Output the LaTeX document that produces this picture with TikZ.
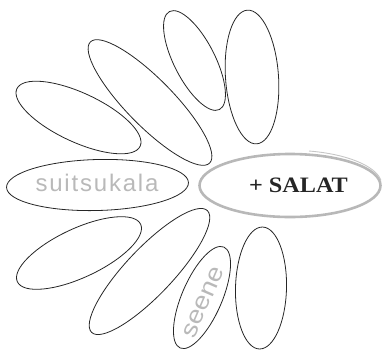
\documentclass[tikz,border=0pt]{standalone}
\usepackage{fontspec}
\usetikzlibrary{shapes.geometric}
\newfontfamily\lblfont[LetterSpace=7.5]{Liberation Sans}
\newfontfamily\lblwidefont[FakeStretch=1.15]{Liberation Sans}
\newfontfamily\salatfont[FakeStretch=1.1]{Liberation Serif}
\definecolor{inkc}{HTML}{262626}
\definecolor{palegray}{HTML}{B9B9B9}
\definecolor{brushgray}{HTML}{B8B8B8}
\tikzset{
  petal/.style={draw=inkc, line width=0.8pt, ellipse, inner sep=0pt, outer sep=0pt},
  palelabel/.style={text=palegray, font=\lblfont\fontsize{24}{24}\selectfont, inner sep=0pt},
  palewidelabel/.style={text=palegray, font=\lblwidefont\fontsize{24}{24}\selectfont, inner sep=0pt},
  salatlabel/.style={text=inkc, font=\salatfont\bfseries\fontsize{22}{22}\selectfont, inner sep=0pt},
  brush/.style={draw=brushgray, line width=2.6pt},
  brushthin/.style={draw=brushgray!80, line width=0.9pt},
}
\begin{document}
\begin{tikzpicture}[x=1pt,y=-1pt]
\useasboundingbox (0,0) rectangle (382,354);
% petals (upper half)
\node[petal, minimum width=134pt, minimum height=53pt, rotate=94] (p1) at (252,77) {};
\node[petal, minimum width=110pt, minimum height=41pt, rotate=117] (p2) at (194.5,60.5) {};
\node[petal, minimum width=170pt, minimum height=47pt, rotate=134.5] (p3) at (150,102.5) {};
\node[petal, minimum width=136pt, minimum height=49pt, rotate=-25] (p4) at (78.5,117.5) {};
% middle row
\node[petal, minimum width=182pt, minimum height=51pt, rotate=1.5] (p5) at (97.5,185) {};
% lower half
\node[petal, minimum width=136pt, minimum height=49pt, rotate=25] (p7) at (79,253) {};
\node[petal, minimum width=168pt, minimum height=47pt, rotate=46.5] (p8) at (149.5,271.5) {};
\node[petal, minimum width=110pt, minimum height=40pt, rotate=66.6] (p9) at (202,297.5) {};
\node[petal, minimum width=122pt, minimum height=51pt, rotate=88.5] (p10) at (261,288) {};
% brush ellipse
\node[brush, ellipse, inner sep=0pt, minimum width=181pt, minimum height=63pt] (salatring) at (290,185.5) {};
\coordinate (brushstart) at (309,151);
\draw[brushthin] (brushstart) arc[start angle=-78, end angle=-8, x radius=92, y radius=35];
% labels
\node[palelabel, anchor=base] (suits) at (97,191) {suitsukala};
\node[palewidelabel, rotate=66.6] (seene) at (203.5,302) {seene};
\node[salatlabel, anchor=base] (salat) at (298.5,192) {+ SALAT};
\end{tikzpicture}
\end{document}
